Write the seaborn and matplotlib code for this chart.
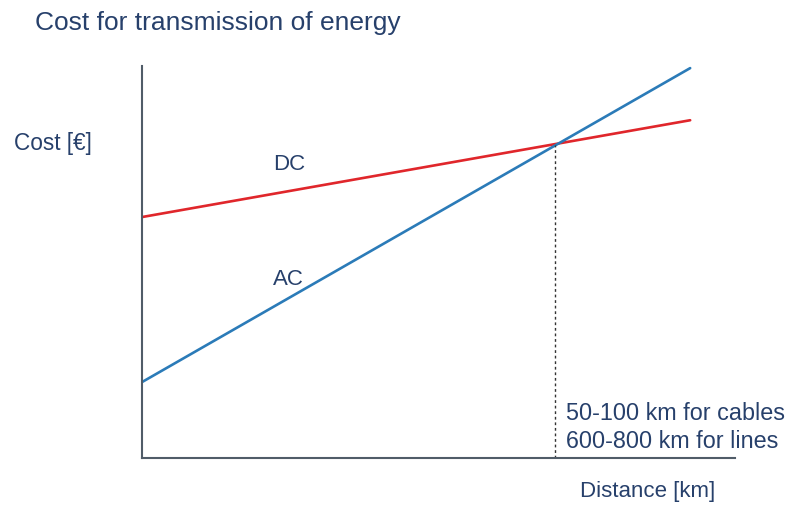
import matplotlib
matplotlib.use("Agg")
import matplotlib.pyplot as plt
import seaborn as sns
import pandas as pd

# valori (unità arbitrarie, assi senza tacche)
distanza = [0.0, 0.924]
costo_dc = [0.615, 0.862]
costo_ac = [0.194, 0.995]
pareggio_x = 0.696
pareggio_y = 0.80

titolo = "Cost for transmission of energy"
nota = "50-100 km for cables\n600-800 km for lines"

sns.set_style("white")
plt.rcParams['font.family'] = ['Liberation Sans', 'DejaVu Sans']

testo = "#27406b"
asse = "#505c68"

df = pd.DataFrame({
    "distanza": distanza * 2,
    "costo": costo_dc + costo_ac,
    "tipo": ["DC"] * 2 + ["AC"] * 2,
})

fig = plt.figure(figsize=(7.94, 5.05), dpi=100)
ax = fig.add_axes([0.179, 0.093, 0.747, 0.776])

sns.lineplot(data=df, x="distanza", y="costo", hue="tipo",
             palette={"DC": "#e0262b", "AC": "#2b7bb8"},
             linewidth=1.9, legend=False, ax=ax)

# linea tratteggiata del punto di pareggio
ax.plot([pareggio_x, pareggio_x], [0, pareggio_y], color="#333333",
        linewidth=1, linestyle=(0, (2, 2)))

ax.set_xlim(0, 1)
ax.set_ylim(0, 1)
ax.set_xticks([])
ax.set_yticks([])
ax.set_xlabel("")
ax.set_ylabel("")
sns.despine(ax=ax)
for s in ["left", "bottom"]:
    ax.spines[s].set_color(asse)
    ax.spines[s].set_linewidth(1.5)

ax.text(0.221, 0.735, "DC", color=testo, fontsize=16, va="baseline")
ax.text(0.221, 0.441, "AC", color=testo, fontsize=16, va="baseline")
ax.text(0.715, 0.0128, nota, color=testo, fontsize=16.8, va="bottom",
        linespacing=1.3)

fig.text(0.044, 1 - 30 / 505, titolo, color=testo, fontsize=19, va="baseline")
fig.text(0.018, 1 - 150 / 505, "Cost [€]", color=testo, fontsize=16.3, va="baseline")
fig.text(0.73, 1 - 497 / 505, "Distance [km]", color=testo, fontsize=16, va="baseline")

fig.savefig("out.png", dpi=100)
